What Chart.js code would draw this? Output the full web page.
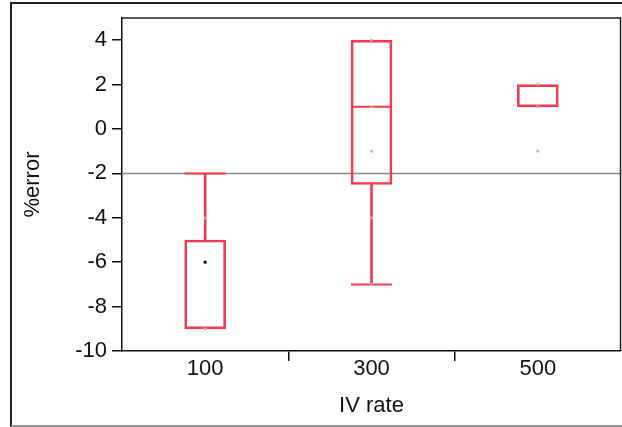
<!DOCTYPE html>
<html>
<head>
<meta charset="utf-8">
<script src="https://cdn.jsdelivr.net/npm/chart.js@4/dist/chart.umd.min.js"></script>
<style>
  html, body { margin: 0; padding: 0; background: #fff; }
  #wrap { position: relative; width: 622px; height: 427px; overflow: hidden; }
  #frame {
    position: absolute; left: 10px; top: 2px; width: 640px; height: 421px;
    border: 2px solid #222; border-bottom-color: #999;
  }
  canvas { position: absolute; left: 0; top: 0; }
</style>
</head>
<body>
<div id="wrap">
  <div id="frame"></div>
  <canvas id="chart" width="622" height="427"></canvas>
</div>
<script>
// IV rate groups
const categories = ["100", "300", "500"];

// box summary per group (%error)
const boxLow = [-9, -2.5, 1];
const boxMedian = [-5, 1, 1];
const boxHigh = [-5, 4, 2];
const whiskerTop = [-2, 4, 2];
const whiskerBottom = [-9, -7, 1];

// individual observations
const pointGroup = ["100", "100", "300", "300", "300", "300", "300", "500", "500", "500"];
const pointValue = [-4, -9, 4, 1, -1, -4, -7, 2, 1, -1];
const meanGroup = ["100"];
const meanValue = [-6];

// reference line
const refValue = -2;

const red = "rgb(240,60,80)";
const font = { family: "'Liberation Sans', Arial, sans-serif", size: 22 };

// helpers to turn summaries into floating bars / marks
const span = (a, b) => a.map((v, i) => (v === b[i] ? null : [v, b[i]]));
const capAt = (ends, other) => ends.map((v, i) => (v === other[i] ? null : v));
const medianMarks = boxMedian.map((m, i) => (m === boxLow[i] || m === boxHigh[i] ? null : m));

const whiskerStyle = {
  type: "bar", grouped: false, barThickness: 2,
  backgroundColor: red, borderWidth: 0,
};
const capStyle = {
  type: "line", showLine: false, pointStyle: "line", pointRadius: 20.5,
  borderColor: red, pointBorderWidth: 2, pointHoverRadius: 20.5,
};

const plotFrame = {
  id: "plotFrame",
  afterDraw(chart) {
    const { ctx, chartArea: a } = chart;
    ctx.save();
    ctx.strokeStyle = "#222";
    ctx.lineWidth = 1.5;
    ctx.beginPath();
    ctx.moveTo(a.left, a.top);
    ctx.lineTo(a.right - 0.5, a.top);
    ctx.lineTo(a.right - 0.5, a.bottom);
    ctx.stroke();
    ctx.restore();
  },
};

new Chart(document.getElementById("chart"), {
  type: "bar",
  data: {
    labels: categories,
    datasets: [
      {
        type: "line", xAxisID: "x2", order: 10,
        data: [{ x: 0, y: refValue }, { x: 1, y: refValue }],
        borderColor: "#888", borderWidth: 1.5, pointRadius: 0,
      },
      {
        type: "bar", grouped: false, barThickness: 41, order: 3,
        data: span(boxLow, boxHigh),
        backgroundColor: "rgba(0,0,0,0)", borderColor: red, borderWidth: 2, borderSkipped: false,
      },
      { ...capStyle, order: 2, data: medianMarks },
      { ...whiskerStyle, order: 4, data: span(boxHigh, whiskerTop) },
      { ...whiskerStyle, order: 4, data: span(whiskerBottom, boxLow) },
      { ...capStyle, order: 2, data: capAt(whiskerTop, boxHigh) },
      { ...capStyle, order: 2, data: capAt(whiskerBottom, boxLow) },
      {
        type: "line", showLine: false, order: 1,
        data: pointGroup.map((g, i) => ({ x: g, y: pointValue[i] })),
        pointStyle: "rect", pointRadius: 1.8, pointBorderWidth: 0,
        pointBackgroundColor: "#b4b4b4",
      },
      {
        type: "line", showLine: false, order: 0,
        data: meanGroup.map((g, i) => ({ x: g, y: meanValue[i] })),
        pointStyle: "rect", pointRadius: 2, pointBorderWidth: 0,
        pointBackgroundColor: "#000",
      },
    ],
  },
  options: {
    responsive: false,
    animation: false,
    layout: { autoPadding: false, padding: { top: 18, right: 1, left: 0, bottom: 0 } },
    plugins: { legend: { display: false }, tooltip: { enabled: false } },
    scales: {
      x: {
        type: "category",
        offset: true,
        afterFit: (s) => { s.height = 76; s.paddingLeft = 0; s.paddingRight = 0; },
        border: { display: true, color: "#111", width: 1.5 },
        grid: {
          offset: true, drawOnChartArea: false, drawTicks: true, tickLength: 10,
          lineWidth: 1.5,
          // only the separators between groups get a tick mark
          color: (c) => (c.type !== "tick" || c.index === 0 ? "rgba(0,0,0,0)" : "#111"),
        },
        ticks: { font, color: "#111", padding: -5 },
        title: { display: true, text: "IV rate", font, color: "#111", padding: { top: 0, bottom: 8 } },
      },
      x2: { type: "linear", display: false, offset: false, min: 0, max: 1 },
      y: {
        min: -10, max: 5,
        afterFit: (s) => { s.width = 122; s.paddingTop = 0; s.paddingBottom = 0; },
        border: { display: true, color: "#111", width: 1.5 },
        grid: { drawOnChartArea: false, drawTicks: true, tickLength: 10, color: "#111", lineWidth: 1.5 },
        ticks: {
          stepSize: 1, font, color: "#111", padding: 5,
          callback: (v) => (v % 2 === 0 ? v : ""),
        },
        title: { display: true, text: "%error", font, color: "#111", padding: { top: 20, bottom: 0 } },
      },
    },
  },
  plugins: [plotFrame],
});
</script>
</body>
</html>
